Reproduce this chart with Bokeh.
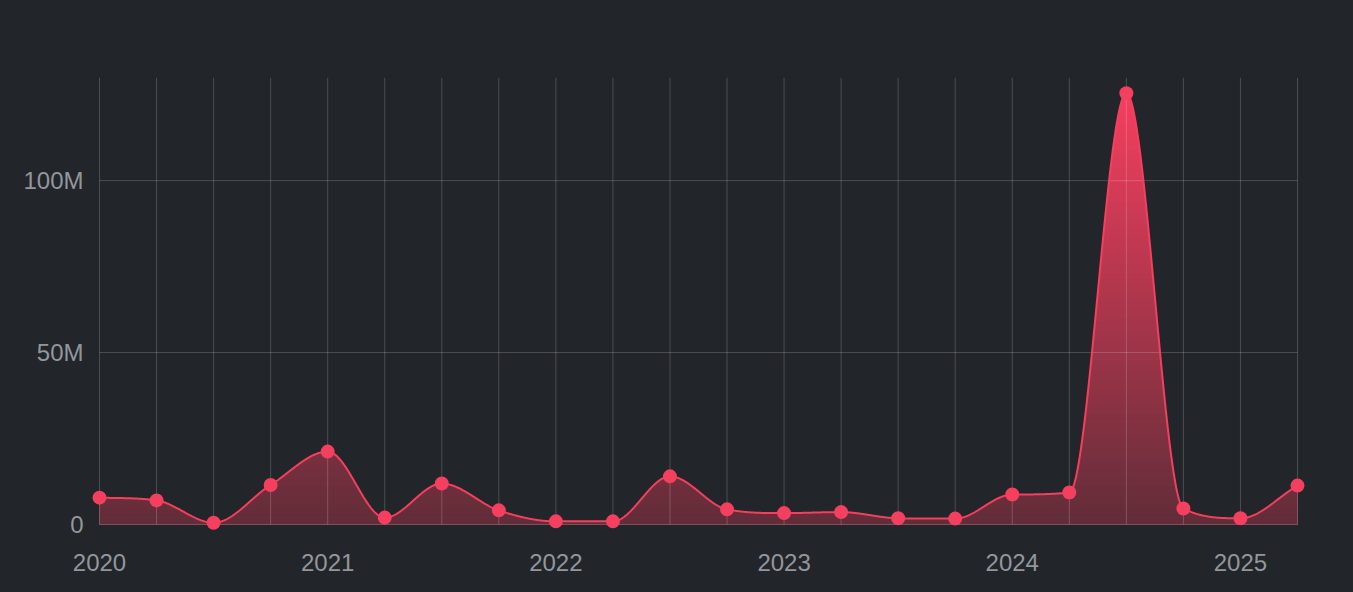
import numpy as np
from bokeh.plotting import figure
from bokeh.models import FixedTicker, Range1d
from bokeh.embed import file_html
from bokeh.resources import INLINE

# ---- data (values in millions, quarterly) ----
quarters = ["2020 Q1", "2020 Q2", "2020 Q3", "2020 Q4",
            "2021 Q1", "2021 Q2", "2021 Q3", "2021 Q4",
            "2022 Q1", "2022 Q2", "2022 Q3", "2022 Q4",
            "2023 Q1", "2023 Q2", "2023 Q3", "2023 Q4",
            "2024 Q1", "2024 Q2", "2024 Q3", "2024 Q4",
            "2025 Q1", "2025 Q2"]
values_m = [7.8, 7.0, 0.5, 11.5,
            21.2, 2.0, 11.9, 4.1,
            0.9, 0.9, 14.0, 4.4,
            3.3, 3.6, 1.8, 1.7,
            8.7, 9.3, 125.4, 4.65,
            1.8, 11.3]
year_ticks = [0, 4, 8, 12, 16, 20]
year_labels = ["2020", "2021", "2022", "2023", "2024", "2025"]
y_ticks = [0, 50, 100]
y_tick_labels = ["0", "50M", "100M"]

BG = "#222529"
RED = "#f43f5e"
LABEL = "#93979c"

x = np.arange(len(values_m), dtype=float)
y = np.array(values_m, dtype=float)


# ---- monotone cubic interpolation (as Chart.js 'monotone') ----
def monotone_curve(xv, yv, samples=2400):
    n = len(xv)
    dx = np.diff(xv)
    delta = np.diff(yv) / dx
    m = np.zeros(n)
    m[0] = delta[0]
    m[-1] = delta[-1]
    for i in range(1, n - 1):
        if delta[i - 1] == 0 or delta[i] == 0 or np.sign(delta[i - 1]) != np.sign(delta[i]):
            m[i] = 0.0
        else:
            m[i] = (delta[i - 1] + delta[i]) / 2.0
    for i in range(n - 1):
        if abs(delta[i]) < 1e-12:
            m[i] = m[i + 1] = 0.0
            continue
        a = m[i] / delta[i]
        b = m[i + 1] / delta[i]
        s = a * a + b * b
        if s > 9:
            tau = 3.0 / np.sqrt(s)
            m[i] = a * tau * delta[i]
            m[i + 1] = b * tau * delta[i]
    xs = np.linspace(xv[0], xv[-1], samples)
    idx = np.clip(np.searchsorted(xv, xs, side="right") - 1, 0, n - 2)
    h = dx[idx]
    t = (xs - xv[idx]) / h
    h00 = 2 * t**3 - 3 * t**2 + 1
    h10 = t**3 - 2 * t**2 + t
    h01 = -2 * t**3 + 3 * t**2
    h11 = t**3 - t**2
    ys = h00 * yv[idx] + h10 * h * m[idx] + h01 * yv[idx + 1] + h11 * h * m[idx + 1]
    return xs, ys


xs, ys = monotone_curve(x, y)

# ---- layout: frame pixel geometry ----
frame_w, frame_h = 1220, 459
px_per_q = 1198.0 / 21.0
xpad = 11.0 / px_per_q
y_lo, y_hi = -3.5, 130.0

p = figure(width=1353, height=592, frame_width=frame_w, frame_height=frame_h,
           output_backend="svg", toolbar_location=None,
           x_range=Range1d(-xpad, 21 + xpad), y_range=Range1d(y_lo, y_hi),
           min_border_left=88, min_border_top=77, min_border_right=45, min_border_bottom=56)
p.background_fill_color = None
p.border_fill_color = BG
p.outline_line_color = None
p.xgrid.visible = False
p.ygrid.visible = False

# ---- gradient area via stacked solid bands ----
bg_rgb = np.array([34, 37, 41], dtype=float)
red_rgb = np.array([244, 63, 94], dtype=float)
N = 90
top_val = 126.0
edges = np.linspace(0, top_val, N + 1)
for k in range(N - 1, -1, -1):
    mid = 0.5 * (edges[k] + edges[k + 1])
    a = 0.30 + 0.70 * min(mid, 125.0) / 125.0
    c = bg_rgb * (1 - a) + red_rgb * a
    col = "#%02x%02x%02x" % tuple(int(round(v)) for v in c)
    hi = edges[k + 1] if k < N - 1 else 200.0
    if edges[k] > ys.max():
        continue
    p.varea(x=xs, y1=np.zeros_like(xs), y2=np.minimum(ys, hi), fill_color=col, fill_alpha=1.0)

# ---- grid lines (drawn over fill, translucent) ----
p.segment(x0=x, y0=np.zeros_like(x), x1=x, y1=np.full_like(x, 130.0),
          line_color="white", line_alpha=0.19, line_width=1)
yt = np.array(y_ticks, dtype=float)
p.segment(x0=np.zeros_like(yt), y0=yt, x1=np.full_like(yt, 21.0), y1=yt,
          line_color="white", line_alpha=0.19, line_width=1)

# ---- line and points ----
p.line(xs, ys, line_color=RED, line_width=2)
p.scatter(x, y, size=14, fill_color=RED, line_color=RED, line_width=0)

# ---- axes ----
p.xaxis.ticker = FixedTicker(ticks=year_ticks)
p.xaxis.major_label_overrides = {t: l for t, l in zip(year_ticks, year_labels)}
p.yaxis.ticker = FixedTicker(ticks=y_ticks)
p.yaxis.major_label_overrides = {t: l for t, l in zip(y_ticks, y_tick_labels)}
for ax in (p.xaxis, p.yaxis):
    ax.axis_line_color = None
    ax.major_tick_line_color = None
    ax.minor_tick_line_color = None
    ax.major_label_text_color = LABEL
    ax.major_label_text_font = "Liberation Sans"
    ax.major_label_text_font_size = "24px"
p.xaxis.major_label_standoff = 11
p.yaxis.major_label_standoff = -1

html = file_html(p, INLINE)
style = "<style>html, body { background-color: %s !important; }</style>" % BG
html = html.replace("</head>", style + "\n</head>", 1)
open("out.html", "w").write(html)
